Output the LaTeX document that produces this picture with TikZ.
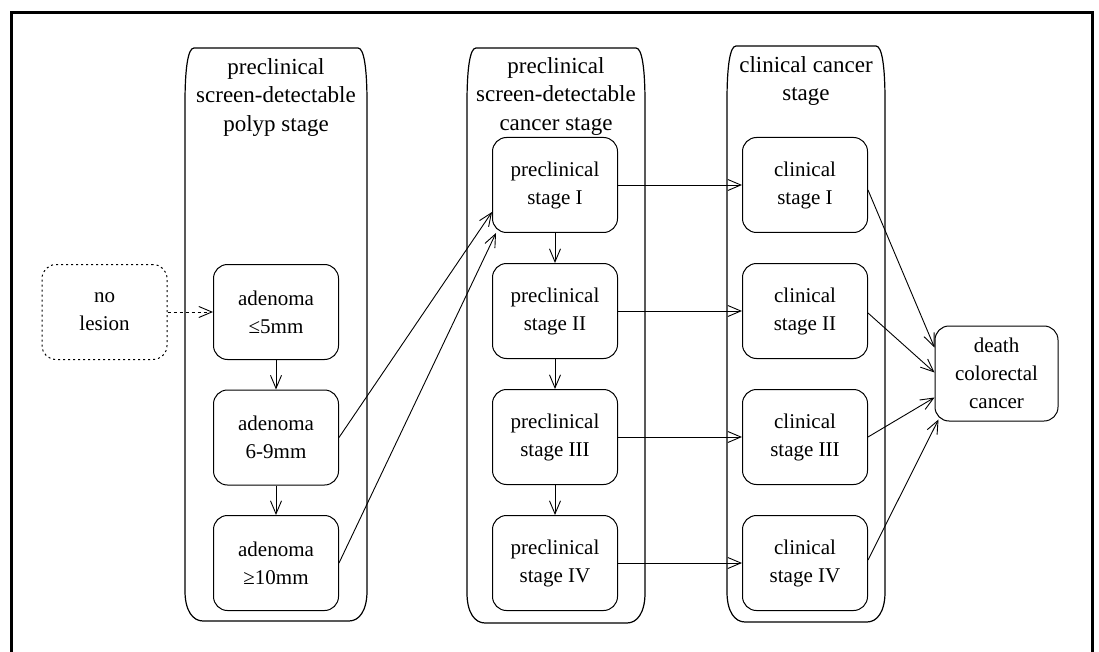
\documentclass[tikz,border=0pt]{standalone}
\usepackage{fontspec}
\setmainfont{Liberation Serif}
\usetikzlibrary{arrows.meta,calc}
\begin{document}
\begin{tikzpicture}[x=1pt,y=-1pt,
  stagebox/.style={draw, rounded corners=14pt, minimum width=125pt, minimum height=95pt, align=center, inner sep=0pt, line width=1pt, font=\fontsize{21}{28}\selectfont},
  title/.style={align=center, inner sep=0pt, anchor=north, font=\fontsize{23}{28.8}\selectfont},
  conn/.style={line width=0.9pt, -{Straight Barb[length=13pt,width=11pt,line width=0.9pt]}},
  container/.style={line width=1.2pt}]
\useasboundingbox (0,0) rectangle (1099,652);
\fill[white] (0,0) rectangle (1099,652);
% outer frame (open at the bottom)
\draw[line width=3pt] (11,652) -- (11,13) -- (1092,13) -- (1092,652);
% containers
\newcommand\stagecol[4]{%
  \draw[container] (#1+9,#3) -- (#2-9,#3) .. controls (#2-3,#3) and (#2,#3+20) .. (#2,#3+55)
    -- (#2,#4-30) .. controls (#2,#4-10) and (#2-8,#4) .. (#2-18,#4)
    -- (#1+18,#4) .. controls (#1+8,#4) and (#1,#4-10) .. (#1,#4-30)
    -- (#1,#3+55) .. controls (#1,#3+20) and (#1+3,#3) .. (#1+9,#3) -- cycle;}
\stagecol{185}{367}{48}{621}
\stagecol{467}{645}{48}{623}
\stagecol{727}{885}{46}{622}
% titles
\node[title] (t1) at (276,58) {preclinical\\screen-detectable\\polyp stage};
\node[title] (t2) at (556,57) {preclinical\\screen-detectable\\cancer stage};
\node[title] (t3) at (806,56) {clinical cancer\\stage};
% boxes
\node[stagebox, dash pattern=on 2pt off 3pt] (nl) at (104.5,312) {no\\lesion};
\node[stagebox] (a1) at (276,312) {adenoma\\≤5mm};
\node[stagebox] (a2) at (276,437.5) {adenoma\\6-9mm};
\node[stagebox] (a3) at (276,563) {adenoma\\≥10mm};
\node[stagebox] (p1) at (555,185) {preclinical\\stage I};
\node[stagebox] (p2) at (555,311) {preclinical\\stage II};
\node[stagebox] (p3) at (555,437) {preclinical\\stage III};
\node[stagebox] (p4) at (555,563) {preclinical\\stage IV};
\node[stagebox] (c1) at (805,185) {clinical\\stage I};
\node[stagebox] (c2) at (805,311) {clinical\\stage II};
\node[stagebox] (c3) at (805,437) {clinical\\stage III};
\node[stagebox] (c4) at (805,563) {clinical\\stage IV};
\node[stagebox, minimum width=123pt] (d) at (996.5,373.5) {death\\colorectal\\cancer};
% connectors
\draw[conn, dash pattern=on 3pt off 3pt] (nl.east) -- (a1.west);
\draw[conn] (a1.south) -- (a2.north);
\draw[conn] (a2.south) -- (a3.north);
\draw[conn] (a2.east) -- ($(p1.west)+(0,27)$);
\draw[conn] (a3.east) -- ($(p1.south west)+(4,0)$);
\draw[conn] (p1.south) -- (p2.north);
\draw[conn] (p2.south) -- (p3.north);
\draw[conn] (p3.south) -- (p4.north);
\draw[conn] (p1.east) -- (c1.west);
\draw[conn] (p2.east) -- (c2.west);
\draw[conn] (p3.east) -- (c3.west);
\draw[conn] (p4.east) -- (c4.west);
\draw[conn] ($(c1.east)+(0,5)$) -- ($(d.west)+(0,-26)$);
\draw[conn] ($(c2.east)+(0,2)$) -- ($(d.west)+(0,-1)$);
\draw[conn] (c3.east) -- ($(d.west)+(0,24)$);
\draw[conn] ($(c4.east)+(0,-3)$) -- ($(d.south west)+(4,-2)$);
\end{tikzpicture}
\end{document}
